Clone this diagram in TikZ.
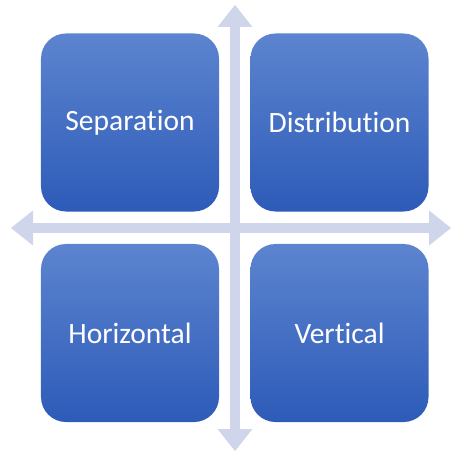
\documentclass[tikz,border=0pt]{standalone}
\usepackage{fontspec}
\setmainfont[Ligatures=NoCommon]{Carlito}
\usetikzlibrary{arrows.meta}
\definecolor{crossgray}{HTML}{CFD5EA}
\definecolor{boxtop}{HTML}{5C84CF}
\definecolor{boxbot}{HTML}{2D5BB8}
\tikzset{
  quad/.style={minimum size=178bp, inner sep=0pt, rounded corners=25bp,
    top color=boxtop, bottom color=boxbot, draw=none, text=white,
    font=\fontsize{29.5bp}{34bp}\selectfont},
  crossarrow/.style={crossgray, line width=10bp,
    {Triangle[width=35bp,length=22bp,line width=0pt]}-{Triangle[width=35bp,length=22bp,line width=0pt]}}
}
\begin{document}
\begin{tikzpicture}[x=1bp,y=-1bp]
\useasboundingbox (0,0) rectangle (451,452);
% the cross
\coordinate (ntop) at (235,5);
\coordinate (nbot) at (235,451);
\coordinate (nleft) at (11,228);
\coordinate (nright) at (451,228);
\draw [crossarrow] (ntop) -- (nbot);
\draw [crossarrow] (nleft) -- (nright);
% the four boxes
\node [quad] (sep) at (130,122.5) {Separation};
\node [quad] (dist) at (339.5,122.5) {Distribution};
\node [quad] (hor) at (130,333) {Horizontal};
\node [quad] (vert) at (339.5,333) {Vertical};
\end{tikzpicture}
\end{document}
